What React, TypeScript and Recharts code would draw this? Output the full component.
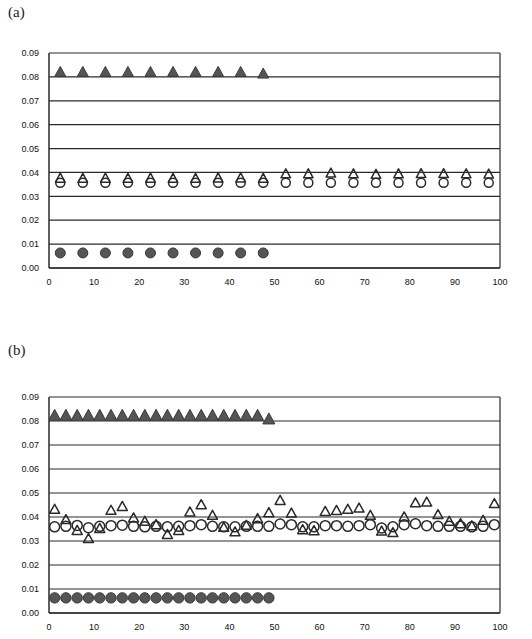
import React from "react";
import {
  ScatterChart,
  Scatter,
  XAxis,
  YAxis,
  CartesianGrid,
  ReferenceLine,
} from "recharts";

// ---------- Panel (a) data ----------
const xA = [2.5, 7.5, 12.5, 17.5, 22.5, 27.5, 32.5, 37.5, 42.5, 47.5, 52.5, 57.5, 62.5, 67.5, 72.5, 77.5, 82.5, 87.5, 92.5, 97.5];
const aFilledTri = [0.0816, 0.0816, 0.0816, 0.0816, 0.0816, 0.0816, 0.0816, 0.0816, 0.0816, 0.0809];
const aFilledCircle = [0.0063, 0.0063, 0.0063, 0.0063, 0.0063, 0.0063, 0.0063, 0.0063, 0.0063, 0.0063];
const aOpenTri = [0.0372, 0.0371, 0.0372, 0.0371, 0.0372, 0.0371, 0.0371, 0.0373, 0.0373, 0.0371, 0.039, 0.039, 0.0393, 0.039, 0.0388, 0.039, 0.0391, 0.0391, 0.039, 0.0389];
const aOpenCircle = [0.0357, 0.0357, 0.0357, 0.0357, 0.0357, 0.0357, 0.0357, 0.0357, 0.0357, 0.0357, 0.0357, 0.0357, 0.0357, 0.0357, 0.0357, 0.0357, 0.0357, 0.0357, 0.0357, 0.0357];

// ---------- Panel (b) data ----------
const xB = [1.25, 3.75, 6.25, 8.75, 11.25, 13.75, 16.25, 18.75, 21.25, 23.75, 26.25, 28.75, 31.25, 33.75, 36.25, 38.75, 41.25, 43.75, 46.25, 48.75, 51.25, 53.75, 56.25, 58.75, 61.25, 63.75, 66.25, 68.75, 71.25, 73.75, 76.25, 78.75, 81.25, 83.75, 86.25, 88.75, 91.25, 93.75, 96.25, 98.75];
const bFilledTri = [0.0818, 0.0818, 0.0818, 0.0818, 0.0818, 0.0818, 0.0818, 0.0818, 0.0818, 0.0818, 0.0818, 0.0818, 0.0818, 0.0818, 0.0818, 0.0818, 0.0818, 0.0818, 0.0818, 0.0803];
const bFilledCircle = [0.0063, 0.0063, 0.0063, 0.0063, 0.0063, 0.0063, 0.0063, 0.0063, 0.0063, 0.0063, 0.0063, 0.0063, 0.0063, 0.0063, 0.0063, 0.0063, 0.0063, 0.0063, 0.0063, 0.0063];
const bOpenTri = [0.0428, 0.0385, 0.034, 0.0306, 0.0348, 0.0424, 0.044, 0.0392, 0.0378, 0.0364, 0.0323, 0.034, 0.0417, 0.0447, 0.0403, 0.0353, 0.0334, 0.0361, 0.0389, 0.0414, 0.0465, 0.0412, 0.0343, 0.0339, 0.0419, 0.0423, 0.0428, 0.0433, 0.0403, 0.0337, 0.0331, 0.0396, 0.0455, 0.0458, 0.0406, 0.0378, 0.0368, 0.0359, 0.0382, 0.0452];
const bOpenCircle = [0.0359, 0.0361, 0.0365, 0.0355, 0.0361, 0.0364, 0.0366, 0.0361, 0.0359, 0.0361, 0.0359, 0.0361, 0.0364, 0.0368, 0.0361, 0.0359, 0.0359, 0.0361, 0.0361, 0.0361, 0.0371, 0.0368, 0.0359, 0.0359, 0.0364, 0.0364, 0.0361, 0.0364, 0.0368, 0.0354, 0.0359, 0.0368, 0.0372, 0.0364, 0.0361, 0.0361, 0.0361, 0.0359, 0.0361, 0.0368];

const xTicks = [0, 10, 20, 30, 40, 50, 60, 70, 80, 90, 100];
const yTicks = [0, 0.01, 0.02, 0.03, 0.04, 0.05, 0.06, 0.07, 0.08, 0.09];

const toPoints = (xs: number[], ys: number[]) => ys.map((y, i) => ({ x: xs[i], y }));

const INK = "#2a2a2a";
const FILL = "#555555";

const makeTri = (w: number, h: number, filled: boolean) => (props: any) => {
  const { cx, cy } = props;
  if (cx == null || cy == null) return null;
  const top = cy - (h * 2) / 3;
  const bot = cy + h / 3;
  return (
    <polygon
      points={`${cx},${top} ${cx - w / 2},${bot} ${cx + w / 2},${bot}`}
      fill={filled ? FILL : "none"}
      stroke={filled ? "#3a3a3a" : INK}
      strokeWidth={filled ? 1 : 1.5}
      strokeLinejoin="round"
    />
  );
};

const makeCircle = (r: number, filled: boolean) => (props: any) => {
  const { cx, cy } = props;
  if (cx == null || cy == null) return null;
  return (
    <circle
      cx={cx}
      cy={cy}
      r={r}
      fill={filled ? FILL : "none"}
      stroke={filled ? "#3a3a3a" : INK}
      strokeWidth={filled ? 1 : 1.5}
    />
  );
};

const tickStyle = { fontSize: 9, fill: "#111", fontFamily: "Liberation Sans, Arial, sans-serif" };

type PanelProps = {
  top: number;
  height: number;
  marginTop: number;
  marginBottom: number;
  series: { data: { x: number; y: number }[]; shape: any; name: string }[];
};

const Panel = ({ top, height, marginTop, marginBottom, series }: PanelProps) => (
  <div style={{ position: "absolute", left: 0, top, width: 532, height }}>
    <ScatterChart
      width={532}
      height={height}
      margin={{ top: marginTop, right: 32, bottom: marginBottom, left: 0 }}
    >
      <CartesianGrid vertical={false} stroke={INK} strokeWidth={1.2} />
      <XAxis
        type="number"
        dataKey="x"
        domain={[0, 100]}
        ticks={xTicks}
        interval={0}
        height={20}
        tickLine={false}
        tickMargin={5}
        axisLine={{ stroke: INK, strokeWidth: 1.5 }}
        tick={tickStyle}
        allowDataOverflow
      />
      <YAxis
        type="number"
        dataKey="y"
        domain={[0, 0.09]}
        ticks={yTicks}
        interval={0}
        width={49}
        tickLine={false}
        tickMargin={4}
        axisLine={{ stroke: INK, strokeWidth: 1.5 }}
        tick={tickStyle}
        tickFormatter={(v: number) => v.toFixed(2)}
        allowDataOverflow
      />
      <ReferenceLine x={100} stroke={INK} strokeWidth={1.2} />
      {series.map((s) => (
        <Scatter
          key={s.name}
          name={s.name}
          data={s.data}
          shape={s.shape}
          isAnimationActive={false}
        />
      ))}
    </ScatterChart>
  </div>
);

const labelStyle: React.CSSProperties = {
  position: "absolute",
  left: 8,
  fontFamily: "Liberation Serif, Times New Roman, serif",
  fontSize: 15,
  color: "#222",
  lineHeight: "16px",
};

export default function App() {
  const seriesA = [
    { name: "aOpenCircle", data: toPoints(xA, aOpenCircle), shape: makeCircle(4.5, false) },
    { name: "aOpenTri", data: toPoints(xA, aOpenTri), shape: makeTri(9.5, 9, false) },
    { name: "aFilledTri", data: toPoints(xA, aFilledTri), shape: makeTri(11, 10, true) },
    { name: "aFilledCircle", data: toPoints(xA, aFilledCircle), shape: makeCircle(5, true) },
  ];
  const seriesB = [
    { name: "bOpenCircle", data: toPoints(xB, bOpenCircle), shape: makeCircle(5, false) },
    { name: "bOpenTri", data: toPoints(xB, bOpenTri), shape: makeTri(10, 9, false) },
    { name: "bFilledTri", data: toPoints(xB, bFilledTri), shape: makeTri(12, 11, true) },
    { name: "bFilledCircle", data: toPoints(xB, bFilledCircle), shape: makeCircle(5.2, true) },
  ];
  return (
    <div style={{ position: "absolute", left: 0, top: 0, width: 532, height: 639, background: "#fff", overflow: "hidden" }}>
      <div style={{ ...labelStyle, top: 4 }}>(a)</div>
      <div style={{ ...labelStyle, top: 342 }}>(b)</div>
      <Panel top={0} height={300} marginTop={53} marginBottom={12} series={seriesA} />
      <Panel top={340} height={295} marginTop={57} marginBottom={2} series={seriesB} />
    </div>
  );
}
